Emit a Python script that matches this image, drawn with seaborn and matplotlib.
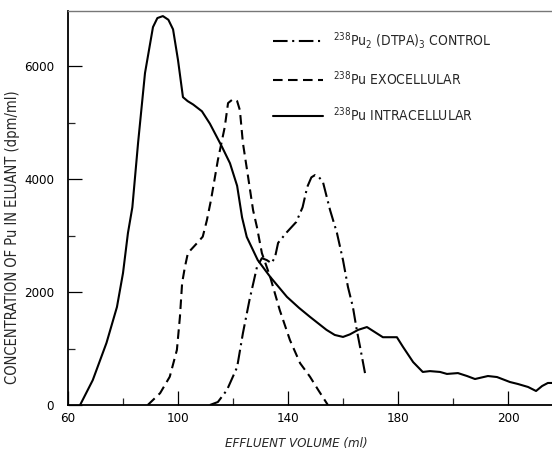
import matplotlib
matplotlib.use("Agg")
import matplotlib.pyplot as plt
from matplotlib import font_manager
import numpy as np
import pandas as pd
import seaborn as sns

# ---------------- data ----------------
intra_x = [64.4, 69, 74, 77.8, 80, 81.8, 83.4, 85.5, 88, 90.9, 92.5, 94.5, 96.5, 98.2,
           100, 101.8, 103.5, 105.5, 108.7, 111.6, 116, 118.9, 121.5, 123.3, 125, 129,
           133.5, 139.6, 144, 148, 154, 157, 160, 162.5, 165.5, 168.7, 171.6, 174.5,
           179.6, 181.8, 185.5, 189, 191.6, 195.3, 197.8, 201.8, 205.1, 208, 212.7,
           216, 220.7, 223.6, 227.3, 230.2, 232.4, 234.5, 236]
intra_y = [0, 440, 1100, 1735, 2335, 3045, 3500, 4650, 5876, 6690, 6850, 6885, 6820, 6650,
           6107, 5450, 5380, 5320, 5200, 4980, 4570, 4280, 3880, 3320, 2975, 2565,
           2270, 1915, 1720, 1560, 1330, 1240, 1205, 1250, 1330, 1380, 1290, 1200,
           1200, 1030, 760, 585, 600, 585, 550, 565, 513, 460, 513,
           495, 407, 372, 319, 248, 336, 390, 390]

exo_x = [89, 93.5, 97, 99.6, 100.7, 101.5, 102.5, 103.6, 107, 109, 110.5, 112, 114.5,
         117, 118.2, 120, 121.5, 122.5, 123.6, 125.5, 127.3, 128.7, 130.5, 133.5, 137,
         140.7, 144.4, 148, 151, 154.5]
exo_y = [0, 210, 500, 975, 1560, 2160, 2440, 2690, 2870, 2980, 3270, 3630, 4336,
         4920, 5345, 5415, 5380, 5220, 4640, 4035, 3450, 3150, 2690, 2270, 1680,
         1150, 740, 500, 265, 0]

ctrl_x = [111.6, 114.5, 117.8, 121.5, 123.6, 126, 128.7, 130.5, 132.3, 134, 135.3, 136.4,
          139.6, 143, 145.3, 147, 148.5, 149.8, 151.3, 152.7, 155.3, 157.8, 160, 161.8,
          163.6, 165, 166.2, 168]
ctrl_y = [0, 53, 265, 670, 1270, 1860, 2440, 2600, 2565, 2510, 2620, 2870,
          3060, 3240, 3500, 3860, 4030, 4070, 4030, 3950, 3450, 3045, 2565, 2090,
          1735, 1330, 1030, 565]

series_names = [r"$^{238}$Pu$_2$ (DTPA)$_3$ CONTROL",
                r"$^{238}$Pu EXOCELLULAR",
                r"$^{238}$Pu INTRACELLULAR"]

x_tick_pos = [60, 100, 140, 180, 220]
x_tick_labels = ["60", "100", "140", "180", "200"]
x_minor_pos = [80, 120, 160, 200]
y_tick_pos = [0, 2000, 4000, 6000]
y_minor_pos = [1000, 3000, 5000]

# ---------------- build long table ----------------
frames = []
for name, xs, ys in zip(series_names, [ctrl_x, exo_x, intra_x], [ctrl_y, exo_y, intra_y]):
    frames.append(pd.DataFrame({"volume": xs, "conc": ys, "series": name}))
df = pd.concat(frames, ignore_index=True)

# ---------------- pick a narrow font if one exists ----------------
family, stretch, scale = "Liberation Sans", "normal", 0.9
cands = []
for f in font_manager.fontManager.ttflist:
    fn = f.fname.lower()
    if ("narrow" in fn or "condensed" in fn) and "bold" not in fn and "oblique" not in fn \
            and "italic" not in fn:
        cands.append(f)
pref = ["liberationsansnarrow", "dejavusanscondensed", "roboto", "opensans"]
cands.sort(key=lambda f: next((i for i, p in enumerate(pref)
                               if p in f.fname.lower().replace("-", "").replace("_", "")), 99))
if cands:
    family, stretch, scale = cands[0].name, cands[0].stretch, 1.0

# ---------------- style ----------------
sns.set_style("ticks")
plt.rcParams["font.family"] = [family, "DejaVu Sans"]
plt.rcParams["font.stretch"] = stretch
plt.rcParams["mathtext.default"] = "regular"

fig = plt.figure(figsize=(5.52, 4.58), dpi=100)
ax = fig.add_axes([68 / 552, 1 - 405 / 458, (552 - 68) / 552, (405 - 11) / 458])

dashes = {series_names[0]: (7, 2.2, 1, 2.2),
          series_names[1]: (4.6, 2.6),
          series_names[2]: ""}

sns.lineplot(data=df, x="volume", y="conc", style="series", style_order=series_names,
             dashes=dashes, color="black", linewidth=1.5, estimator=None, sort=False,
             ax=ax, legend=True)

old = ax.get_legend()
handles = list(old.legend_handles)
labels = [t.get_text() for t in old.texts]
old.remove()
for h in handles:
    h.set_color("black")
    h.set_linewidth(1.5)
ax.legend(handles, labels, loc="upper left", bbox_to_anchor=(273 / 552, 1 - 30 / 458),
          bbox_transform=fig.transFigure, frameon=False, fontsize=10 * scale,
          handlelength=3.6 / scale, handletextpad=0.7, labelspacing=1.3, borderpad=0,
          borderaxespad=0)

ax.set_xlim(60, 236)
ax.set_ylim(0, 6975)
ax.set_xticks(x_tick_pos)
ax.set_xticklabels(x_tick_labels)
ax.set_xticks(x_minor_pos, minor=True)
ax.set_yticks(y_tick_pos)
ax.set_yticks(y_minor_pos, minor=True)
ax.tick_params(which="major", direction="in", length=10, width=0.9, labelsize=9.5 * scale,
               colors="black")
ax.tick_params(which="minor", direction="in", length=5, width=0.9)
ax.tick_params(axis="x", which="major", pad=5)
ax.tick_params(axis="y", which="major", pad=10)

ax.set_xlabel("")
ax.set_ylabel("")
ax.spines["right"].set_visible(False)
ax.spines["top"].set_color("#777777")
ax.spines["top"].set_linewidth(1.0)
for s in ["left", "bottom"]:
    ax.spines[s].set_color("black")
    ax.spines[s].set_linewidth(1.3)

fig.text(13 / 552, 1 - 237 / 458, "CONCENTRATION OF Pu IN ELUANT (dpm/ml)",
         rotation=90, ha="center", va="center", fontsize=10.5 * scale)
fig.text(296 / 552, 1 - 443 / 458, "EFFLUENT VOLUME (ml)", style="italic",
         ha="center", va="center", fontsize=9.5 * scale)

fig.savefig("out.png", dpi=100)
